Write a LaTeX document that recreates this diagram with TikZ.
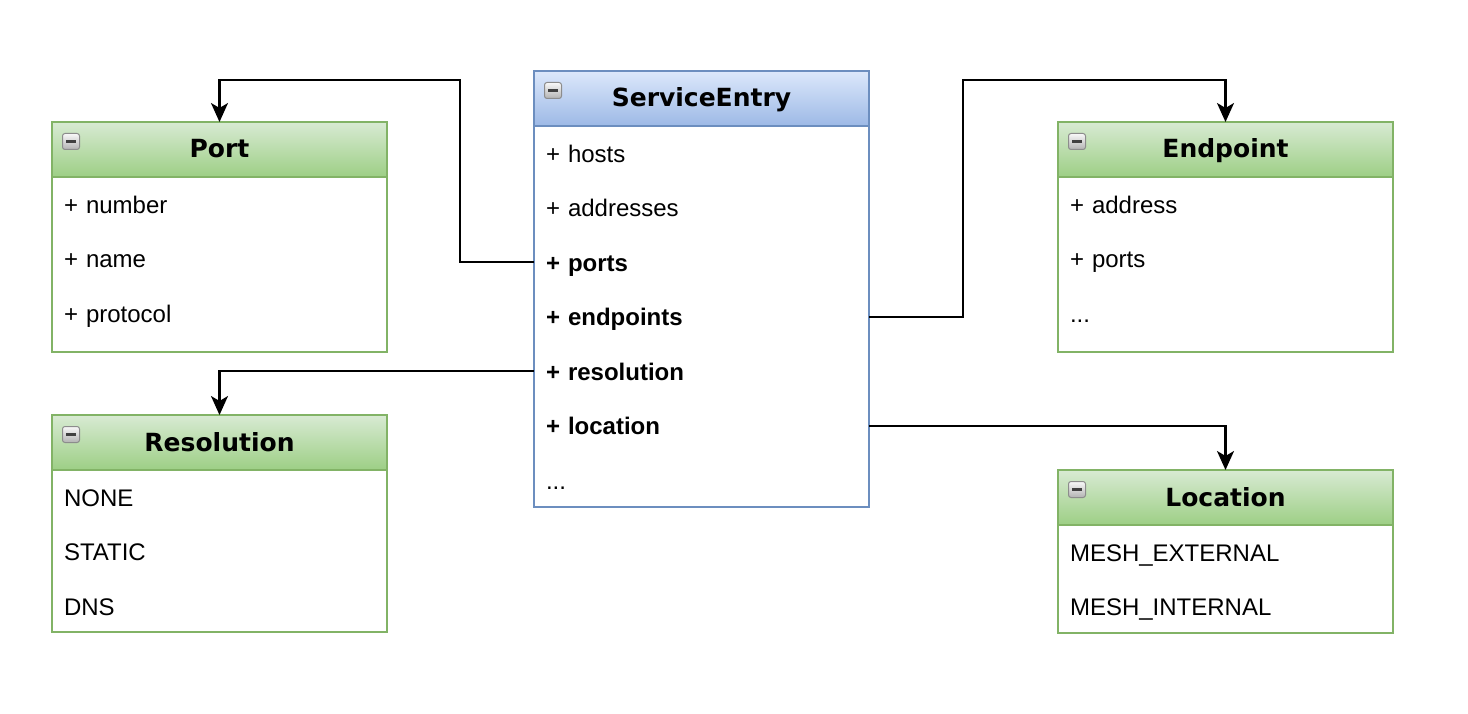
\documentclass[tikz,border=0pt]{standalone}
\usepackage{fontspec}
\setmainfont{Liberation Sans}
\newfontfamily\headfont{DejaVu Sans}
\usepackage{xcolor}
\usepackage{tikz}
\usetikzlibrary{arrows.meta, positioning}
\definecolor{greenline}{HTML}{82B366}
\definecolor{greentop}{HTML}{D8EAD3}
\definecolor{greenbot}{HTML}{9DCF85}
\definecolor{blueline}{HTML}{6C8EBF}
\definecolor{bluetop}{HTML}{DCE8FB}
\definecolor{bluebot}{HTML}{9DB9E6}
\tikzstyle{arrow} = [line width=2.2pt, -{Stealth[length=19pt,width=17pt,inset=5pt]}]
\tikzstyle{classhead} = [rectangle, minimum width=335pt, minimum height=55pt, line width=2pt, outer sep=0pt, text centered, text height=20pt, text depth=3pt, font=\fontsize{25}{29}\headfont\bfseries]
\tikzstyle{greenhead} = [classhead, draw=greenline, top color=greentop, bottom color=greenbot]
\tikzstyle{bluehead} = [classhead, draw=blueline, top color=bluetop, bottom color=bluebot]
\tikzstyle{classbody} = [rectangle, minimum width=335pt, line width=2pt, outer sep=0pt, fill=white]
\tikzstyle{item} = [rectangle, text width=311pt, inner xsep=12pt, inner ysep=0pt, minimum height=54.5pt, text height=20pt, text depth=2pt, outer sep=0pt, align=left, font=\fontsize{24}{28}\selectfont]
\tikzstyle{toggle} = [rectangle, rounded corners=2.5pt, minimum width=17pt, minimum height=16pt, inner sep=0pt, line width=1pt, draw=gray!90, top color=gray!5, bottom color=gray!60,
    path picture={\draw[line width=2.2pt, black!75] ([xshift=-5pt]path picture bounding box.center) -- ([xshift=5pt]path picture bounding box.center);}]

\begin{document}
\begin{tikzpicture}[x=1pt, y=-1pt]
    \useasboundingbox (0,0) rectangle (1468,714);

    % ServiceEntry
    \node (se) [bluehead, anchor=north west] at (534,71) {ServiceEntry};
    \node (sebody) [classbody, draw=blueline, below=0pt of se, minimum height=381pt] {};
    \node (sehosts) [item, below=0pt of se] {+ hosts};
    \node (seaddresses) [item, below=0pt of sehosts] {+ addresses};
    \node (seports) [item, below=0pt of seaddresses] {\textbf{+ ports}};
    \node (seendpoints) [item, below=0pt of seports] {\textbf{+ endpoints}};
    \node (seresolution) [item, below=0pt of seendpoints] {\textbf{+ resolution}};
    \node (selocation) [item, below=0pt of seresolution] {\textbf{+ location}};
    \node (semore) [item, below=0pt of selocation] {...};
    \node (seicon) [toggle, below right=11pt and 10pt of se.north west] {};

    % Port
    \node (port) [greenhead, anchor=north west] at (52,122) {Port};
    \node (portbody) [classbody, draw=greenline, below=0pt of port, minimum height=175pt] {};
    \node (portnumber) [item, below=0pt of port] {+ number};
    \node (portname) [item, below=0pt of portnumber] {+ name};
    \node (portprotocol) [item, below=0pt of portname] {+ protocol};
    \node (porticon) [toggle, below right=11pt and 10pt of port.north west] {};

    % Resolution
    \node (resolution) [greenhead, anchor=north west] at (52,415) {Resolution};
    \node (resbody) [classbody, draw=greenline, below=0pt of resolution, minimum height=162pt] {};
    \node (resnone) [item, below=0pt of resolution] {NONE};
    \node (resstatic) [item, below=0pt of resnone] {STATIC};
    \node (resdns) [item, below=0pt of resstatic] {DNS};
    \node (resicon) [toggle, below right=11pt and 10pt of resolution.north west] {};

    % Endpoint
    \node (endpoint) [greenhead, anchor=north west] at (1058,122) {Endpoint};
    \node (endbody) [classbody, draw=greenline, below=0pt of endpoint, minimum height=175pt] {};
    \node (endaddress) [item, below=0pt of endpoint] {+ address};
    \node (endports) [item, below=0pt of endaddress] {+ ports};
    \node (endmore) [item, below=0pt of endports] {...};
    \node (endicon) [toggle, below right=11pt and 10pt of endpoint.north west] {};

    % Location
    \node (location) [greenhead, anchor=north west] at (1058,470) {Location};
    \node (locbody) [classbody, draw=greenline, below=0pt of location, minimum height=108pt] {};
    \node (locexternal) [item, below=0pt of location] {MESH\_EXTERNAL};
    \node (locinternal) [item, below=0pt of locexternal] {MESH\_INTERNAL};
    \node (locicon) [toggle, below right=11pt and 10pt of location.north west] {};

    % Verbindungen
    \coordinate (portbend) at (460,80);
    \coordinate (endbend) at (963,80);
    \draw [arrow] (seports.west) -| (portbend) -| (port.north);
    \draw [arrow] (seendpoints.east) -| (endbend) -| (endpoint.north);
    \draw [arrow] (seresolution.west) -| (resolution.north);
    \draw [arrow] (selocation.east) -| (location.north);
\end{tikzpicture}
\end{document}
